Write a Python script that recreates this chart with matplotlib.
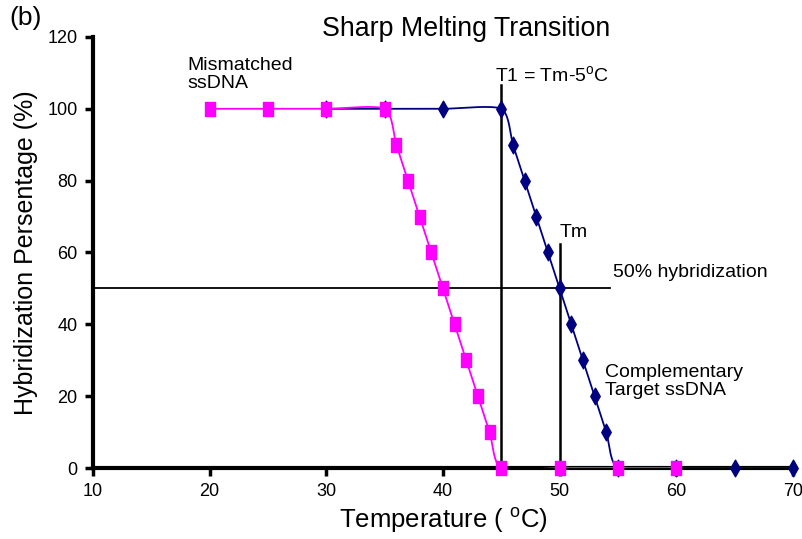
import numpy as np
import matplotlib.pyplot as plt
from matplotlib.path import Path

plt.rcParams['font.family'] = ['Liberation Sans', 'DejaVu Sans']

# mismatched strand
temp_mis = [20, 25, 30, 35, 36, 37, 38, 39, 40, 41, 42, 43, 44, 45, 50, 55, 60]
hyb_mis = [100, 100, 100, 100, 90, 80, 70, 60, 50, 40, 30, 20, 10, 0, 0, 0, 0]

# complementary target strand
temp_comp = [30, 35, 40, 45, 46, 47, 48, 49, 50, 51, 52, 53, 54, 55, 60, 65, 70]
hyb_comp = [100, 100, 100, 100, 90, 80, 70, 60, 50, 40, 30, 20, 10, 0, 0, 0, 0]

tm = 50
t1 = tm - 5
half = 50


def smooth(x, y, n=30, k=0.35):
    # Cardinal spline through the points (smoothed line)
    p = np.column_stack([x, y]).astype(float)
    p = np.vstack([p[0], p, p[-1]])
    out = []
    t = np.linspace(0, 1, n)[:, None]
    for i in range(1, len(p) - 2):
        p0, p1, p2, p3 = p[i - 1], p[i], p[i + 1], p[i + 2]
        m1 = (p2 - p0) * k
        m2 = (p3 - p1) * k
        h00 = 2 * t**3 - 3 * t**2 + 1
        h10 = t**3 - 2 * t**2 + t
        h01 = -2 * t**3 + 3 * t**2
        h11 = t**3 - t**2
        out.append(h00 * p1 + h10 * m1 + h01 * p2 + h11 * m2)
    c = np.vstack(out)
    return c[:, 0], c[:, 1]


# tall rectangle and tall diamond markers
rect = Path([(-0.66, -1), (0.66, -1), (0.66, 1), (-0.66, 1), (-0.66, -1)],
            [Path.MOVETO, Path.LINETO, Path.LINETO, Path.LINETO, Path.CLOSEPOLY])
diam = Path([(0, -1), (0.57, 0), (0, 1), (-0.57, 0), (0, -1)],
            [Path.MOVETO, Path.LINETO, Path.LINETO, Path.LINETO, Path.CLOSEPOLY])

fig = plt.figure(figsize=(8.03, 5.39), dpi=100)
ax = fig.add_axes([0.1158, 0.1317, 0.8717, 0.7997])

# reference lines
ax.plot([10, 54.3], [half, half], color='black', lw=1.3, zorder=2)
ax.plot([t1, t1], [0, 106.7], color='black', lw=1.8, zorder=2)
ax.plot([tm, tm], [0, 62.4], color='black', lw=1.8, zorder=2)

sx, sy = smooth(temp_comp, hyb_comp)
ax.plot(sx, sy, color='#000080', lw=1.3, zorder=3)
ax.plot(temp_comp, hyb_comp, ls='none', marker=diam, ms=12,
        color='#000080', zorder=4, clip_on=False)

sx, sy = smooth(temp_mis, hyb_mis)
ax.plot(sx, sy, color='#ff00ff', lw=1.3, zorder=5)
ax.plot(temp_mis, hyb_mis, ls='none', marker=rect, ms=10,
        color='#ff00ff', zorder=6, clip_on=False)

ax.set_xlim(10, 70)
ax.set_ylim(0, 120)
ax.set_xticks(np.arange(10, 71, 10))
ax.set_yticks(np.arange(0, 121, 20))
for s in ['top', 'right']:
    ax.spines[s].set_visible(False)
for s in ['left', 'bottom']:
    ax.spines[s].set_linewidth(3)
ax.tick_params(direction='out', length=6, width=2.5, labelsize=13, pad=5)

ax.set_xlabel('Temperature ( $\\mathregular{^{o}}$C)', fontsize=18.5, labelpad=4)
ax.set_ylabel('Hybridization Persentage (%)', fontsize=18, labelpad=7)

fig.text(0.58, 0.946, 'Sharp Melting Transition', fontsize=19.3, ha='center', va='center')
fig.text(0.012, 0.967, '(b)', fontsize=19, ha='left', va='center')

ax.text(18.1, 109.6, 'Mismatched\nssDNA', fontsize=14, va='center', linespacing=1.05)
ax.text(44.5, 109.5, 'T1 = Tm-5$\\mathregular{^{o}}$C', fontsize=14, va='center')
ax.text(50.0, 65.5, 'Tm', fontsize=14, va='center')
ax.text(54.55, 54.3, '50% hybridization', fontsize=14, va='center')
ax.text(53.9, 24.1, 'Complementary\nTarget ssDNA', fontsize=14, va='center', linespacing=1.05)

fig.savefig('out.png', dpi=100)
